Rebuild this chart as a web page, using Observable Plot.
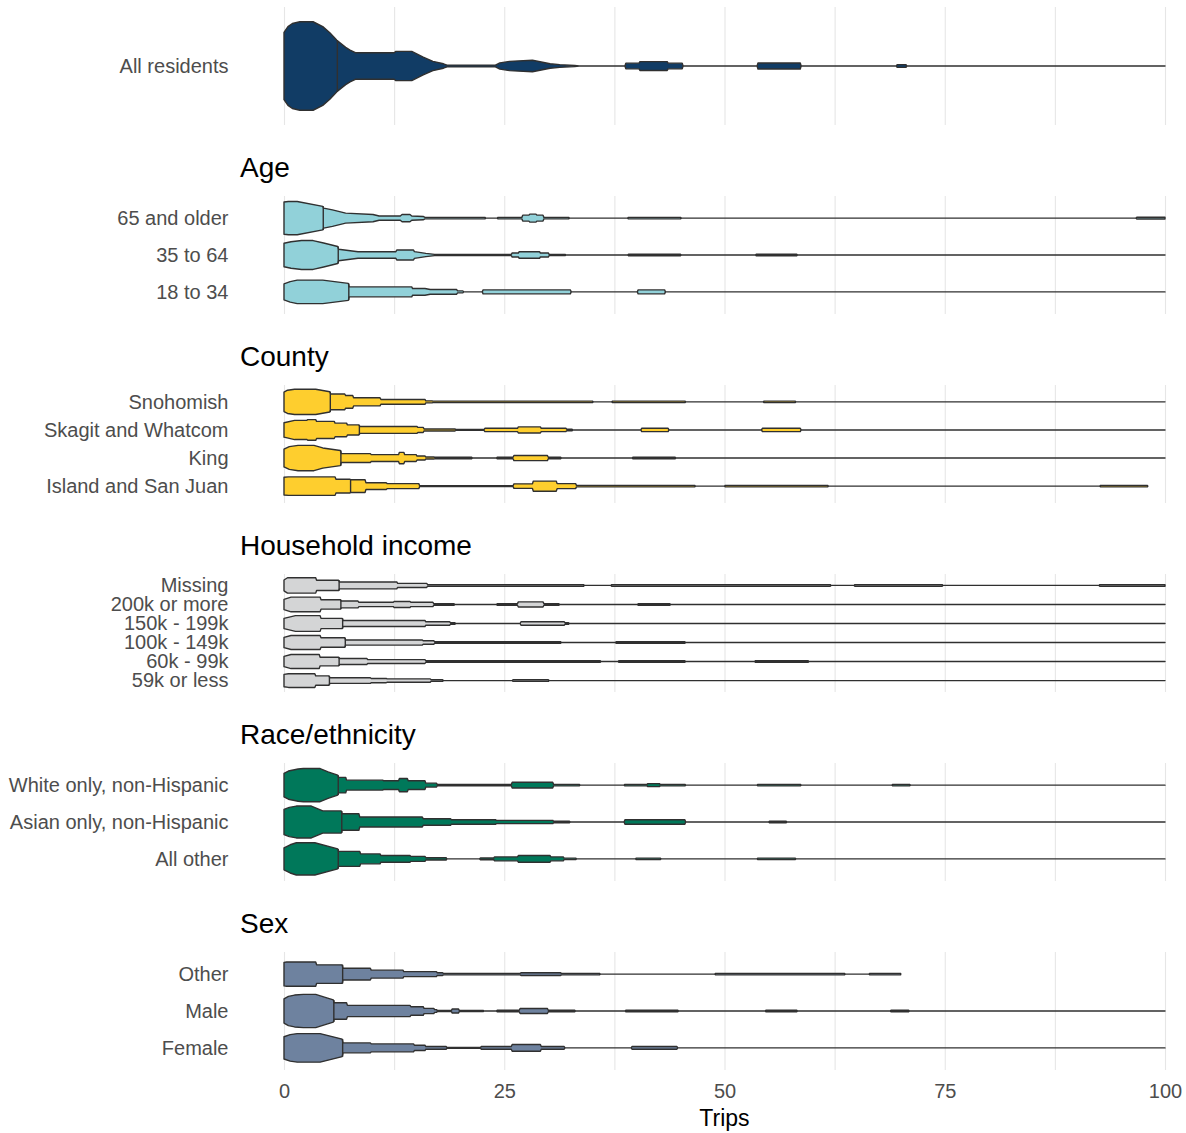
<!DOCTYPE html>
<html><head><meta charset="utf-8">
<script src="https://cdn.jsdelivr.net/npm/d3@7"></script>
<script src="https://cdn.jsdelivr.net/npm/@observablehq/plot@0.6"></script>
<style>
body{margin:0;background:#fff;font-family:"Liberation Sans",Arial,sans-serif;}
#root{position:relative;width:1186px;height:1133px;overflow:hidden;background:#fff;}
.title{position:absolute;left:240px;font-size:28px;line-height:1;color:#000;white-space:nowrap;}
.xtitle{position:absolute;left:284px;width:881px;text-align:center;font-size:23px;line-height:1;color:#000;}
</style></head><body><div id="root"></div>
<script>
// ---------- DATA (trip counts vs. relative density) ----------
const gridTicks = [0, 12.5, 25, 37.5, 50, 62.5, 75, 87.5, 100];
const xTicks = [0, 25, 50, 75, 100];
const xLabel = "Trips";

const sectionTitles = [null, "Age", "County", "Household income", "Race/ethnicity", "Sex"];
const sectionColors = ["#113C65", "#91D1D9", "#FECE2E", "#D4D5D6", "#00785A", "#6E829F"];

const allLabels = ["All residents"];
const ageLabels = ["65 and older", "35 to 64", "18 to 34"];
const countyLabels = ["Snohomish", "Skagit and Whatcom", "King", "Island and San Juan"];
const incomeLabels = ["Missing", "200k or more", "150k - 199k", "100k - 149k", "60k - 99k", "59k or less"];
const raceLabels = ["White only, non-Hispanic", "Asian only, non-Hispanic", "All other"];
const sexLabels = ["Other", "Male", "Female"];

const allMedians = [6.0];
const ageMedians = [4.4, 6.1, 7.3];
const countyMedians = [5.2, 8.5, 6.4, 7.5];
const incomeMedians = [6.2, 6.4, 6.6, 6.9, 6.2, 5.1];
const raceMedians = [6.1, 6.5, 6.1];
const sexMedians = [6.6, 5.6, 6.6];

// profiles: [trips, relative density]
const allResidents = [[0,0.76],[0.45,0.89],[0.95,0.96],[1.8,1.0],[3.3,1.0],[4.4,0.89],[5.2,0.75],[6.0,0.58],[7.0,0.42],[7.5,0.36],[8.1,0.30],[12.5,0.30],[12.7,0.33],[14.5,0.33],[15.8,0.20],[16.9,0.105],[18.1,0.05],[18.5,0.02],[24.0,0.02],[24.5,0.07],[25.6,0.105],[28.2,0.13],[30.2,0.05],[31.3,0.03],[33,0.01],[33.5,0],[38.7,0],[38.8,0.064],[40.3,0.064],[40.4,0.10],[43.5,0.10],[43.6,0.064],[45.2,0.064],[45.3,0],[53.7,0],[53.8,0.068],[58.6,0.068],[58.7,0],[69.5,0],[69.6,0.03],[70.6,0.03],[70.7,0],[100,0]];

const age65 = [[0,0.97],[0.5,1.0],[1.5,1.0],[4.4,0.71],[4.5,0.6],[5.5,0.5],[7.0,0.3],[10.1,0.22],[10.8,0.13],[13.2,0.13],[13.4,0.22],[14.3,0.22],[14.5,0.13],[15.8,0.1],[16.0,0.045],[22.8,0.045],[22.9,0],[24.2,0],[24.3,0.045],[27.0,0.045],[27.1,0.18],[27.8,0.18],[27.9,0.24],[28.6,0.24],[28.7,0.18],[29.4,0.18],[29.5,0.045],[32.3,0.045],[32.4,0],[39,0],[39.1,0.045],[45,0.045],[45.1,0],[96.7,0],[96.8,0.05],[100,0.05]];
const age35 = [[0,0.71],[0.8,0.8],[2,0.87],[3.3,0.87],[4.5,0.72],[6.1,0.51],[6.2,0.35],[8.4,0.2],[12.7,0.2],[12.8,0.3],[14.7,0.3],[14.8,0.2],[16.1,0.1],[17.1,0.04],[25.8,0.04],[25.9,0.12],[26.6,0.12],[26.7,0.2],[29,0.2],[29.1,0.12],[30,0.12],[30.1,0.04],[31.9,0.04],[32,0],[39,0],[39.1,0.045],[45,0.045],[45.1,0],[53.5,0],[53.6,0.045],[58.2,0.045],[58.3,0],[100,0]];
const age18 = [[0,0.48],[0.7,0.62],[1.5,0.71],[4.4,0.71],[7.3,0.51],[7.4,0.3],[14.5,0.3],[14.6,0.2],[16.0,0.2],[16.6,0.14],[19.6,0.14],[19.7,0.06],[20.3,0.06],[20.4,0],[22.5,0],[22.6,0.12],[32.5,0.12],[32.6,0],[40.1,0],[40.2,0.12],[43.2,0.12],[43.3,0],[100,0]];

const snohomish = [[0,0.77],[0.4,0.92],[1.2,1.0],[3.6,1.0],[4.4,0.9],[5.2,0.8],[5.3,0.62],[6.9,0.62],[7.0,0.5],[7.8,0.5],[7.9,0.32],[10.9,0.32],[11.0,0.19],[16.0,0.19],[16.1,0.08],[16.8,0.08],[16.9,0.06],[35,0.06],[35.1,0],[37.2,0],[37.3,0.06],[45.5,0.06],[45.6,0],[54.4,0],[54.5,0.06],[58,0.06],[58.1,0],[100,0]];
const skagit = [[0,0.57],[1.2,0.76],[2.6,0.76],[2.7,0.82],[3.6,0.82],[3.7,0.68],[5.7,0.68],[5.8,0.54],[7.1,0.54],[7.2,0.4],[8.5,0.4],[8.6,0.27],[15.1,0.27],[15.2,0.2],[15.8,0.2],[15.9,0.08],[19.4,0.08],[19.5,0.03],[22.7,0.03],[22.8,0.13],[26.5,0.13],[26.6,0.24],[29.1,0.24],[29.2,0.13],[32,0.13],[32.1,0.06],[32.7,0.06],[32.8,0],[40.5,0],[40.6,0.13],[43.6,0.13],[43.7,0],[54.2,0],[54.3,0.13],[58.6,0.13],[58.7,0],[100,0]];
const king = [[0,0.7],[0.6,0.9],[1.6,1.0],[3.4,1.0],[4.4,0.8],[6.4,0.6],[6.5,0.35],[9.8,0.35],[9.9,0.27],[13.0,0.27],[13.1,0.45],[13.6,0.45],[13.7,0.27],[15,0.27],[15.1,0.16],[16,0.16],[16.1,0.08],[17,0.08],[17.1,0.06],[21.3,0.06],[21.4,0],[24.1,0],[24.2,0.06],[26,0.06],[26.1,0.2],[29.9,0.2],[30,0.06],[31.4,0.06],[31.5,0],[39.5,0],[39.6,0.06],[44.4,0.06],[44.5,0],[100,0]];
const island = [[0,0.7],[0.5,0.73],[5.8,0.73],[5.9,0.54],[7.5,0.54],[7.6,0.5],[9.2,0.5],[9.3,0.27],[11.6,0.27],[11.7,0.2],[15.3,0.2],[15.4,0.03],[26.0,0.03],[26.1,0.18],[28.2,0.18],[28.3,0.4],[30.9,0.4],[31.0,0.2],[33.1,0.2],[33.2,0.06],[46.6,0.06],[46.7,0],[50,0],[50.1,0.06],[61.7,0.06],[61.8,0],[92.6,0],[92.7,0.06],[98,0.06],[98.05,0]];

const incMissing = [[0,0.63],[0.4,0.9],[3.6,0.9],[3.7,0.6],[6.2,0.6],[6.3,0.4],[12.8,0.4],[12.9,0.24],[16.2,0.24],[16.3,0.09],[34,0.09],[34.1,0],[37.1,0],[37.2,0.09],[62,0.09],[62.1,0],[64.7,0],[64.8,0.09],[74.7,0.09],[74.8,0],[92.5,0],[92.6,0.09],[100,0.09]];
const inc200 = [[0,0.6],[0.8,0.86],[4.1,0.86],[4.2,0.55],[6.4,0.55],[6.5,0.4],[8.4,0.4],[8.5,0.25],[12.4,0.25],[12.5,0.35],[14.3,0.35],[14.4,0.25],[16.9,0.25],[17.0,0.09],[19.3,0.09],[19.4,0],[24.1,0],[24.2,0.09],[26.5,0.09],[26.6,0.3],[29.4,0.3],[29.5,0.09],[31.2,0.09],[31.3,0],[40.1,0],[40.2,0.09],[43.8,0.09],[43.9,0],[100,0]];
const inc150 = [[0,0.6],[1.3,0.92],[4.1,0.92],[4.2,0.6],[6.6,0.6],[6.7,0.35],[16,0.35],[16.1,0.2],[18.8,0.2],[18.9,0.09],[19.4,0.09],[19.5,0],[26.8,0],[26.9,0.2],[31.8,0.2],[31.9,0.09],[32.3,0.09],[32.4,0],[100,0]];
const inc100 = [[0,0.6],[0.8,0.82],[4.1,0.82],[4.2,0.55],[6.9,0.55],[7.0,0.3],[15.7,0.3],[15.8,0.2],[17,0.2],[17.1,0.09],[31.4,0.09],[31.5,0],[37.6,0],[37.7,0.09],[45.5,0.09],[45.6,0],[100,0]];
const inc60 = [[0,0.6],[0.8,0.82],[4.0,0.82],[4.1,0.5],[6.2,0.5],[6.3,0.35],[9.4,0.35],[9.5,0.22],[16,0.22],[16.1,0.09],[35.9,0.09],[36,0],[37.9,0],[38,0.09],[45.5,0.09],[45.6,0],[53.4,0],[53.5,0.09],[59.5,0.09],[59.6,0],[100,0]];
const inc59 = [[0,0.72],[0.5,0.8],[3.5,0.8],[3.6,0.55],[5.1,0.55],[5.2,0.33],[9.8,0.33],[9.9,0.25],[11.6,0.25],[11.7,0.2],[16.6,0.2],[16.7,0.09],[18,0.09],[18.1,0],[25.9,0],[26,0.09],[30,0.09],[30.1,0],[100,0]];

const raceWhite = [[0,0.71],[0.5,0.85],[1.6,0.97],[2.2,1.0],[4.1,1.0],[5,0.8],[6.1,0.6],[6.2,0.47],[7.0,0.47],[7.1,0.3],[11.2,0.3],[11.3,0.26],[13,0.26],[13.1,0.4],[14,0.4],[14.1,0.26],[16,0.26],[16.1,0.12],[17.3,0.12],[17.4,0.04],[25.8,0.04],[25.9,0.17],[30.5,0.17],[30.6,0.045],[33.5,0.045],[33.6,0],[38.6,0],[38.7,0.045],[41.2,0.045],[41.3,0.09],[42.6,0.09],[42.7,0.045],[45.5,0.045],[45.6,0],[53.7,0],[53.8,0.045],[58.6,0.045],[58.7,0],[69,0],[69.1,0.045],[71,0.045],[71.1,0],[100,0]];
const raceAsian = [[0,0.76],[0.6,0.88],[1.4,0.96],[3.1,0.96],[4.4,0.67],[6.5,0.67],[6.6,0.5],[8.5,0.5],[8.6,0.3],[15.7,0.3],[15.8,0.2],[18.9,0.2],[19,0.14],[24,0.14],[24.1,0.1],[30.5,0.1],[30.6,0.045],[32.4,0.045],[32.5,0],[38.6,0],[38.7,0.14],[45.5,0.14],[45.6,0],[55,0],[55.1,0.045],[57,0.045],[57.1,0],[100,0]];
const raceOther = [[0,0.66],[0.7,0.85],[1.4,0.97],[3.5,0.97],[6.1,0.6],[6.2,0.45],[8.6,0.45],[8.7,0.3],[10.9,0.3],[11,0.2],[14.3,0.2],[14.4,0.15],[16,0.15],[16.1,0.07],[18.4,0.07],[18.5,0],[22.2,0],[22.3,0.05],[23.8,0.05],[23.9,0.12],[26.5,0.12],[26.6,0.2],[30.2,0.2],[30.3,0.12],[31.7,0.12],[31.8,0.045],[33.1,0.045],[33.2,0],[39.9,0],[40,0.045],[42.7,0.045],[42.8,0],[53.7,0],[53.8,0.045],[58,0.045],[58.1,0],[100,0]];

const sexOther = [[0,0.71],[0.3,0.73],[3.6,0.73],[3.7,0.56],[6.6,0.56],[6.7,0.35],[9.8,0.35],[9.9,0.24],[13.5,0.24],[13.6,0.15],[17.3,0.15],[17.4,0.08],[18,0.08],[18.1,0.045],[26.8,0.045],[26.9,0.08],[31.4,0.08],[31.5,0.045],[35.8,0.045],[35.9,0],[48.9,0],[49,0.045],[63.6,0.045],[63.7,0],[66.4,0],[66.5,0.045],[70,0.045]];
const sexMale = [[0,0.73],[0.5,0.88],[1.2,0.96],[2.2,1.0],[3.6,1.0],[4.5,0.85],[5.6,0.67],[5.7,0.5],[7.1,0.5],[7.2,0.34],[14.3,0.34],[14.4,0.26],[15.8,0.26],[15.9,0.16],[17,0.16],[17.1,0.08],[17.3,0.08],[17.4,0.04],[19,0.04],[19.1,0.12],[19.8,0.12],[19.9,0.04],[22.6,0.04],[22.7,0],[24.1,0],[24.2,0.045],[26.7,0.045],[26.8,0.15],[29.9,0.15],[30,0.045],[33,0.045],[33.1,0],[38.7,0],[38.8,0.045],[44.7,0.045],[44.8,0],[54.6,0],[54.7,0.045],[58.2,0.045],[58.3,0],[68.8,0],[68.9,0.045],[70.9,0.045],[71,0],[100,0]];
const sexFemale = [[0,0.67],[0.7,0.8],[1.5,0.86],[4.1,0.86],[6.6,0.53],[6.7,0.3],[9.8,0.3],[9.9,0.24],[14.7,0.24],[14.8,0.16],[16,0.16],[16.1,0.08],[18.4,0.08],[18.5,0.02],[22.3,0.02],[22.4,0.08],[25.8,0.08],[25.9,0.2],[29.1,0.2],[29.2,0.08],[31.8,0.08],[31.9,0],[39.4,0],[39.5,0.08],[44.6,0.08],[44.7,0],[100,0]];

// ---------- BUILD ----------
const sections = [
  {labels: allLabels, medians: allMedians, profiles: [allResidents]},
  {labels: ageLabels, medians: ageMedians, profiles: [age65, age35, age18]},
  {labels: countyLabels, medians: countyMedians, profiles: [snohomish, skagit, king, island]},
  {labels: incomeLabels, medians: incomeMedians, profiles: [incMissing, inc200, inc150, inc100, inc60, inc59]},
  {labels: raceLabels, medians: raceMedians, profiles: [raceWhite, raceAsian, raceOther]},
  {labels: sexLabels, medians: sexMedians, profiles: [sexOther, sexMale, sexFemale]}
].map((s, k) => ({...s, title: sectionTitles[k], color: sectionColors[k]}));

function widthAt(p, t) {
  for (let i = 0; i < p.length - 1; i++) {
    const [t0, w0] = p[i], [t1, w1] = p[i + 1];
    if (t >= t0 && t <= t1) return t1 === t0 ? w0 : w0 + (w1 - w0) * (t - t0) / (t1 - t0);
  }
  return 0;
}

const root = document.getElementById("root");
const HALF = 0.45, PANEL_H = 118, FONT = "'Liberation Sans', Arial, sans-serif";
const OUTLINE = "#303030", SW = 1.4;

sections.forEach((s, k) => {
  const top = 7 + 189 * k;
  const last = k === sections.length - 1;
  const n = s.labels.length;
  if (s.title) {
    const d = document.createElement("div");
    d.className = "title";
    d.textContent = s.title;
    d.style.top = (top - 18 - 23.7) + "px";
    root.appendChild(d);
  }
  const data = s.profiles.flatMap((p, i) => p.map(([t, w]) => ({row: i, t, w})));
  const meds = s.medians.map((m, i) => ({row: i, m, w: widthAt(s.profiles[i], m)}));
  const mb = last ? 63 : 0;
  const marks = [
    Plot.ruleX(gridTicks, {stroke: "#e6e6e6", strokeWidth: 1.1}),
    Plot.areaY(data, {x: "t", y1: d => d.row - HALF * d.w, y2: d => d.row + HALF * d.w, z: "row",
      fill: s.color, stroke: OUTLINE, strokeWidth: SW, strokeLinejoin: "round", curve: "linear"}),
    Plot.ruleX(meds, {x: "m", y1: d => d.row - HALF * d.w, y2: d => d.row + HALF * d.w, stroke: OUTLINE, strokeWidth: SW}),
    Plot.axisY(d3.range(n), {tickFormat: i => s.labels[i], tickSize: 0, tickPadding: 56, fontSize: 20, fill: "#4d4d4d", label: null})
  ];
  if (last) marks.push(Plot.axisX(xTicks, {tickSize: 0, tickPadding: 13, fontSize: 20, fill: "#4d4d4d", label: null}));
  const chart = Plot.plot({
    width: 1186, height: PANEL_H + mb,
    marginLeft: 284, marginRight: 21, marginTop: 0, marginBottom: mb,
    x: {domain: [0, 100], axis: last ? undefined : null},
    y: {domain: [n - 0.4, -0.6]},
    style: {fontFamily: FONT, color: "#4d4d4d", background: "transparent", overflow: "visible"},
    marks
  });
  chart.style.position = "absolute";
  chart.style.top = top + "px";
  chart.style.left = "0px";
  root.appendChild(chart);
});

const xt = document.createElement("div");
xt.className = "xtitle";
xt.textContent = xLabel;
xt.style.top = "1107px";
root.appendChild(xt);
</script></body></html>
